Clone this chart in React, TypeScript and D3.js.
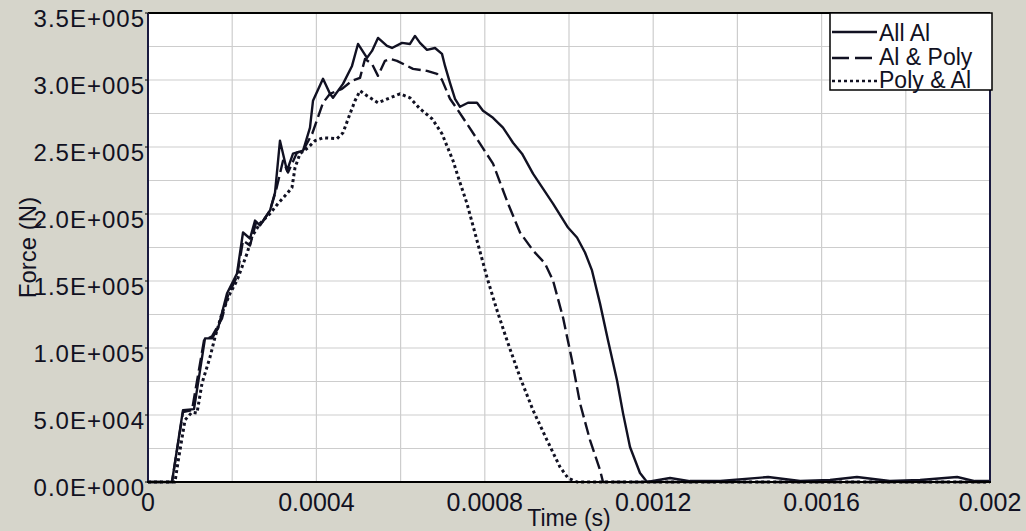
import React from 'react';
import * as d3 from 'd3';

// time in microseconds, force in kN
const timeAllAl = [0, 57.0, 83.1, 109.3, 135.4, 152.0, 166.3, 187.6, 211.4, 225.7, 242.3, 254.2, 266.0, 289.8, 301.7, 313.5, 330.2, 344.4, 368.2, 384.8, 391.9, 415.7, 432.3, 439.4, 463.2, 484.6, 498.8, 520.2, 532.1, 546.3, 567.7, 579.6, 603.3, 622.3, 634.2, 646.1, 662.7, 681.7, 698.3, 705.5, 717.3, 729.2, 741.1, 760.1, 781.5, 795.7, 819.5, 843.2, 867.0, 888.4, 914.5, 962.0, 997.6, 1019.0, 1038.0, 1054.6, 1073.6, 1092.6, 1114.0, 1128.3, 1144.9, 1168.6, 1185.3, 1240, 1287, 1359, 1473, 1549, 1620, 1684, 1762, 1834, 1922, 1964, 2000];
const forceAllAl = [0, 0, 53.6, 54.4, 107.2, 107.2, 114.7, 140.7, 155.6, 186.2, 181.7, 195.1, 191.4, 202.6, 216.0, 254.7, 232.3, 245.0, 247.2, 264.4, 284.5, 300.9, 289.7, 286.7, 297.1, 310.5, 326.9, 316.5, 321.7, 331.4, 325.4, 323.9, 327.7, 326.9, 332.9, 327.7, 322.5, 323.9, 319.5, 310.5, 297.9, 286.0, 280.0, 283.0, 283.0, 277.0, 271.8, 264.4, 253.2, 245.0, 230.1, 207.8, 189.9, 182.5, 171.3, 157.9, 133.3, 105.7, 76.0, 51.4, 26.1, 6.7, 0, 3.0, 0.7, 0.7, 3.7, 0.7, 1.5, 3.7, 0.7, 1.5, 3.7, 0.7, 0.7];

const timeAlPoly = [0, 57.0, 83.1, 104.5, 133.0, 152.0, 175.8, 190.0, 211.4, 225.7, 242.3, 256.5, 270.8, 289.8, 304.0, 320.7, 332.5, 353.9, 368.2, 390.0, 415.7, 432.3, 460.8, 484.6, 503.6, 515.4, 532.1, 546.3, 562.9, 574.8, 591.4, 629.5, 662.7, 686.5, 698.3, 717.3, 733.9, 757.7, 788.6, 819.5, 855.1, 883.6, 914.5, 943.0, 962.0, 985.7, 1007.1, 1026.1, 1049.9, 1073.6, 1080.8, 2000];
const forceAlPoly = [0, 0, 52.1, 53.6, 105.7, 108.7, 122.1, 139.3, 153.4, 180.2, 176.5, 193.6, 193.6, 202.6, 217.5, 239.8, 230.9, 245.8, 247.2, 259.9, 283.0, 289.7, 293.4, 299.4, 301.6, 315.7, 312.0, 303.1, 314.3, 315.7, 314.3, 308.3, 306.8, 304.6, 300.1, 286.0, 278.5, 267.3, 252.5, 237.6, 207.8, 186.2, 172.8, 163.1, 150.4, 122.9, 90.9, 58.8, 31.3, 9.0, 0, 0];

const timePolyAl = [0, 64.1, 71.3, 87.9, 104.5, 116.4, 128.3, 147.3, 159.1, 175.8, 194.8, 211.4, 235.2, 247.0, 266.0, 289.8, 308.8, 330.2, 342.0, 349.2, 361.0, 380.0, 396.7, 415.7, 448.9, 463.2, 479.8, 491.7, 503.6, 520.2, 546.3, 574.8, 598.6, 622.3, 646.1, 674.6, 698.3, 724.5, 741.1, 757.7, 781.5, 805.2, 829.0, 855.1, 883.6, 914.5, 947.7, 978.6, 997.6, 1019.0, 2000];
const forcePolyAl = [0, 0, 14.9, 46.2, 52.1, 51.4, 73.7, 93.1, 108.0, 125.9, 140.7, 150.4, 170.5, 183.2, 192.9, 200.3, 207.8, 215.2, 219.7, 234.6, 245.0, 249.5, 254.7, 256.9, 256.2, 260.6, 274.8, 284.5, 291.9, 288.2, 283.0, 286.7, 289.7, 286.7, 278.5, 271.1, 259.9, 239.8, 223.4, 207.8, 180.2, 152.7, 128.1, 103.5, 78.2, 53.6, 31.3, 11.2, 3.0, 0, 0];

const seriesNames = ['All Al', 'Al & Poly', 'Poly & Al'];
const seriesDash = ['none', '13,5', '3,3'];

const xTicks = [0, 0.0004, 0.0008, 0.0012, 0.0016, 0.002];
const xTickLabels = ['0', '0.0004', '0.0008', '0.0012', '0.0016', '0.002'];
const yTicks = [0, 50000, 100000, 150000, 200000, 250000, 300000, 350000];
const yTickLabels = ['0.0E+000', '5.0E+004', '1.0E+005', '1.5E+005', '2.0E+005', '2.5E+005', '3.0E+005', '3.5E+005'];

const FONT = '"Liberation Sans", Arial, sans-serif';
const INK = '#111122';

export default function App() {
  const W = 1026, H = 531;
  const x = d3.scaleLinear().domain([0, 0.002]).range([148, 990]);
  const y = d3.scaleLinear().domain([0, 350000]).range([482, 13]);

  const series = [
    { t: timeAllAl, f: forceAllAl },
    { t: timeAlPoly, f: forceAlPoly },
    { t: timePolyAl, f: forcePolyAl },
  ].map((s) => s.t.map((tv, i) => [tv * 1e-6, s.f[i] * 1000] as [number, number]));

  const line = d3.line<[number, number]>().x((d) => x(d[0])).y((d) => y(d[1]));

  const vGrid = d3.range(0, 11).map((i) => i * 0.0002);
  const hGrid = d3.range(0, 15).map((i) => i * 25000);

  const [x0, x1] = x.range();
  const [yb, yt] = y.range();

  return (
    <svg width={W} height={H} style={{ position: 'absolute', left: 0, top: 0, display: 'block' }}>
      <rect x={0} y={0} width={W} height={H} fill="#d6d5cb" />
      <rect x={x0} y={yt} width={x1 - x0} height={yb - yt} fill="#ffffff" />
      {vGrid.map((v, i) => (
        <line key={'v' + i} x1={x(v)} x2={x(v)} y1={yt} y2={yb} stroke="#cdcdcd" strokeWidth={1.2} />
      ))}
      {hGrid.map((v, i) => (
        <line key={'h' + i} x1={x0} x2={x1} y1={y(v)} y2={y(v)} stroke="#cdcdcd" strokeWidth={1.2} />
      ))}
      {series.map((s, i) => (
        <path
          key={'s' + i}
          d={line(s) || ''}
          fill="none"
          stroke={INK}
          strokeWidth={i === 2 ? 3 : 2.4}
          strokeDasharray={seriesDash[i]}
          strokeLinejoin="round"
        />
      ))}
      {/* frame */}
      <line x1={x0} x2={x1} y1={yt} y2={yt} stroke="#000" strokeWidth={2} />
      <line x1={x1} x2={x1} y1={yt} y2={yb} stroke="#1a1a40" strokeWidth={2} />
      <line x1={x0} x2={x0} y1={yt} y2={yb} stroke="#1a1a40" strokeWidth={2} />
      <line x1={x0 - 1} x2={x1 + 1} y1={yb} y2={yb} stroke="#000" strokeWidth={2} />
      {/* y ticks */}
      {yTicks.map((v, i) => (
        <g key={'yt' + i}>
          <line x1={x0 - 3} x2={x0} y1={y(v)} y2={y(v)} stroke="#000" strokeWidth={1} />
          <text x={x0 - 3} y={y(v) + 14} textAnchor="end" fontFamily={FONT} fontSize={24} letterSpacing={1} fill={INK}>
            {yTickLabels[i]}
          </text>
        </g>
      ))}
      {xTicks.map((v, i) => (
        <text key={'xt' + i} x={x(v)} y={511} textAnchor="middle" fontFamily={FONT} fontSize={25} fill={INK}>
          {xTickLabels[i]}
        </text>
      ))}
      <text x={(x0 + x1) / 2} y={526} textAnchor="middle" fontFamily={FONT} fontSize={23} fill={INK}>
        Time (s)
      </text>
      <text
        transform={`translate(36, ${(yt + yb) / 2}) rotate(-90)`}
        textAnchor="middle"
        fontFamily={FONT}
        fontSize={24}
        fill={INK}
      >
        Force (N)
      </text>
      {/* legend */}
      <rect x={830} y={13} width={162} height={77} fill="#fff" stroke="#000" strokeWidth={1.5} />
      {seriesNames.map((n, i) => {
        const ly = [32, 58, 81][i];
        const by = [41, 65, 88][i];
        return (
          <g key={'lg' + i}>
            <line x1={832} x2={877} y1={ly} y2={ly} stroke={INK} strokeWidth={i === 2 ? 2.5 : 2.4} strokeDasharray={i === 1 ? '17,6' : i === 2 ? '3,3' : 'none'} />
            <text x={879} y={by} fontFamily={FONT} fontSize={23} fill={INK}>
              {n}
            </text>
          </g>
        );
      })}
    </svg>
  );
}
